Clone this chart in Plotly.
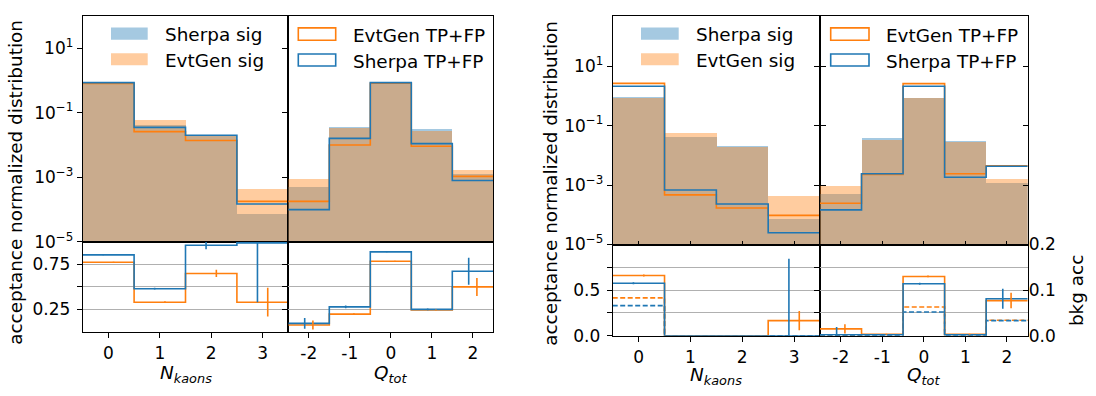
import numpy as np
import plotly.graph_objects as go

W, H = 1096, 396
FONT = "DejaVu Sans"
FS_TICK = 17
FS_TEXT = 18.4
BLUE = "#1f77b4"
ORANGE = "#ff7f0e"
BLUE_FILL = "rgba(31,119,180,0.4)"
ORANGE_FILL = "rgba(255,127,14,0.4)"

# ---- binning -------------------------------------------------------------
nk_centers = [0, 1, 2, 3]
q_centers = [-2, -1, 0, 1, 2]
nk_ticks = ["0", "1", "2", "3"]
q_ticks = ["-2", "-1", "0", "1", "2"]

# ---- signal shapes (shared by both groups) -------------------------------
sherpa_sig_nk = [0.92, 0.042, 0.021, 7.6e-5]
evtgen_sig_nk = [0.86, 0.060, 0.0195, 4.5e-4]
sherpa_sig_q = [5.3e-4, 0.038, 0.90, 0.032, 1.25e-3]
evtgen_sig_q = [9.3e-4, 0.035, 0.86, 0.028, 1.7e-3]

# ---- signal selection: TP+FP and acceptance ------------------------------
sherpa_tpfp_nk_sig = [0.85, 0.035, 0.020, 1.5e-4]
evtgen_tpfp_nk_sig = [0.80, 0.026, 0.0137, 1.8e-4]
sherpa_tpfp_q_sig = [1.0e-4, 0.016, 0.85, 0.011, 8.0e-4]
evtgen_tpfp_q_sig = [1.8e-4, 0.010, 0.81, 0.0091, 1.07e-3]

sherpa_acc_nk = [0.856, 0.48, 0.963, 0.99]
sherpa_acc_nk_err = [0.005, 0.01, 0.045, 0.66]
evtgen_acc_nk = [0.775, 0.33, 0.65, 0.33]
evtgen_acc_nk_err = [0.005, 0.01, 0.04, 0.16]
sherpa_acc_q = [0.094, 0.278, 0.89, 0.25, 0.675]
sherpa_acc_q_err = [0.06, 0.015, 0.005, 0.01, 0.15]
evtgen_acc_q = [0.076, 0.197, 0.785, 0.243, 0.50]
evtgen_acc_q_err = [0.05, 0.01, 0.005, 0.005, 0.10]

# ---- background selection: TP+FP and bkg acceptance ---------------------
sherpa_tpfp_nk_bkg = [2.13, 6.8e-4, 2.3e-4, 2.5e-5]
evtgen_tpfp_nk_bkg = [2.65, 4.7e-4, 1.7e-4, 9.6e-5]
sherpa_tpfp_q_bkg = [1.47e-4, 2.4e-3, 2.13, 1.84e-3, 4.3e-3]
evtgen_tpfp_q_bkg = [2.45e-4, 2.3e-3, 2.6, 2.4e-3, 4.5e-3]

sherpa_bkg_nk = [0.115, 0.0, 0.0, 0.0]
sherpa_bkg_nk_err = [0.002, 0.0, 0.0, 0.169]
evtgen_bkg_nk = [0.132, 0.0, 0.0, 0.033]
evtgen_bkg_nk_err = [0.002, 0.0, 0.0, 0.021]
sherpa_bkg_tp_nk = [0.066, 0.0, 0.0, 0.0]
evtgen_bkg_tp_nk = [0.083, 0.0, 0.0, 0.0]

sherpa_bkg_q = [0.002, 0.002, 0.114, 0.002, 0.081]
sherpa_bkg_q_err = [0.017, 0.001, 0.002, 0.001, 0.022]
evtgen_bkg_q = [0.015, 0.003, 0.130, 0.003, 0.077]
evtgen_bkg_q_err = [0.010, 0.001, 0.002, 0.001, 0.017]
sherpa_bkg_tp_q = [0.0005, 0.001, 0.052, 0.001, 0.033]
evtgen_bkg_tp_q = [0.001, 0.002, 0.063, 0.002, 0.034]


def px(x):
    return x / W


def py(y):
    return 1 - y / H


# panel boxes in pixels: left edge, divider, right edge, top, top/bottom split, bottom
GA = dict(x0=82.7, xm=288.3, x1=493.3, yt=6, ym=244.3, yb=339)
GB = dict(x0=612.7, xm=820.0, x1=1027.7, yt=6, ym=247, yb=343)

fig = go.Figure()


def step(centers, vals):
    c = np.asarray(centers, float)
    edges = np.append(c - 0.5, c[-1] + 0.5)
    yv = list(vals) + [vals[-1]]
    return edges, yv


def add_fill(xa, ya, centers, vals, color):
    fig.add_trace(go.Bar(x=centers, y=vals, width=1.0, marker=dict(color=color, line=dict(width=0)),
                         xaxis=xa, yaxis=ya, showlegend=False, hoverinfo="skip"))


def add_step(xa, ya, centers, vals, color, dash="solid"):
    ex, ey = step(centers, vals)
    fig.add_trace(go.Scatter(x=ex, y=ey, mode="lines", line=dict(color=color, width=1.6, shape="hv", dash=dash),
                             xaxis=xa, yaxis=ya, showlegend=False, hoverinfo="skip"))


def add_err(xa, ya, centers, vals, errs, color, shift):
    xs = [c + shift for c in centers]
    fig.add_trace(go.Scatter(x=xs, y=vals, mode="markers", marker=dict(size=1, color="rgba(0,0,0,0)"),
                             error_y=dict(type="data", array=errs, width=0, thickness=1.6, color=color),
                             xaxis=xa, yaxis=ya, showlegend=False, hoverinfo="skip"))


def add_empty(xa, ya):
    fig.add_trace(go.Scatter(x=[], y=[], xaxis=xa, yaxis=ya, showlegend=False, hoverinfo="skip"))


# ---- group A (signal) ----------------------------------------------------
add_fill("x", "y", nk_centers, sherpa_sig_nk, BLUE_FILL)
add_fill("x", "y", nk_centers, evtgen_sig_nk, ORANGE_FILL)
add_step("x", "y", nk_centers, evtgen_tpfp_nk_sig, ORANGE)
add_step("x", "y", nk_centers, sherpa_tpfp_nk_sig, BLUE)

add_step("x2", "y2", nk_centers, evtgen_acc_nk, ORANGE)
add_step("x2", "y2", nk_centers, sherpa_acc_nk, BLUE)
add_err("x2", "y2", nk_centers, evtgen_acc_nk, evtgen_acc_nk_err, ORANGE, 0.1)
add_err("x2", "y2", nk_centers, sherpa_acc_nk, sherpa_acc_nk_err, BLUE, -0.1)

add_fill("x3", "y3", q_centers, sherpa_sig_q, BLUE_FILL)
add_fill("x3", "y3", q_centers, evtgen_sig_q, ORANGE_FILL)
add_step("x3", "y3", q_centers, evtgen_tpfp_q_sig, ORANGE)
add_step("x3", "y3", q_centers, sherpa_tpfp_q_sig, BLUE)

add_step("x4", "y4", q_centers, evtgen_acc_q, ORANGE)
add_step("x4", "y4", q_centers, sherpa_acc_q, BLUE)
add_err("x4", "y4", q_centers, evtgen_acc_q, evtgen_acc_q_err, ORANGE, 0.1)
add_err("x4", "y4", q_centers, sherpa_acc_q, sherpa_acc_q_err, BLUE, -0.1)

# ---- group B (background) ------------------------------------------------
add_fill("x5", "y5", nk_centers, sherpa_sig_nk, BLUE_FILL)
add_fill("x5", "y5", nk_centers, evtgen_sig_nk, ORANGE_FILL)
add_step("x5", "y5", nk_centers, evtgen_tpfp_nk_bkg, ORANGE)
add_step("x5", "y5", nk_centers, sherpa_tpfp_nk_bkg, BLUE)

add_empty("x6", "y6")
add_step("x6", "y9", nk_centers, evtgen_bkg_tp_nk, ORANGE, "5px,2.5px")
add_step("x6", "y9", nk_centers, sherpa_bkg_tp_nk, BLUE, "5px,2.5px")
add_step("x6", "y9", nk_centers, evtgen_bkg_nk, ORANGE)
add_step("x6", "y9", nk_centers, sherpa_bkg_nk, BLUE)
add_err("x6", "y9", nk_centers, evtgen_bkg_nk, evtgen_bkg_nk_err, ORANGE, 0.1)
add_err("x6", "y9", nk_centers, sherpa_bkg_nk, sherpa_bkg_nk_err, BLUE, -0.1)

add_fill("x7", "y7", q_centers, sherpa_sig_q, BLUE_FILL)
add_fill("x7", "y7", q_centers, evtgen_sig_q, ORANGE_FILL)
add_step("x7", "y7", q_centers, evtgen_tpfp_q_bkg, ORANGE)
add_step("x7", "y7", q_centers, sherpa_tpfp_q_bkg, BLUE)
add_empty("x7", "y11")

add_empty("x8", "y8")
add_step("x8", "y10", q_centers, evtgen_bkg_tp_q, ORANGE, "5px,2.5px")
add_step("x8", "y10", q_centers, sherpa_bkg_tp_q, BLUE, "5px,2.5px")
add_step("x8", "y10", q_centers, evtgen_bkg_q, ORANGE)
add_step("x8", "y10", q_centers, sherpa_bkg_q, BLUE)
add_err("x8", "y10", q_centers, evtgen_bkg_q, evtgen_bkg_q_err, ORANGE, 0.1)
add_err("x8", "y10", q_centers, sherpa_bkg_q, sherpa_bkg_q_err, BLUE, -0.1)

# ---- axes ----------------------------------------------------------------
tickfont = dict(family=FONT, size=FS_TICK, color="black")
frame = dict(showline=True, linecolor="black", linewidth=1, mirror=True, zeroline=False, showgrid=False,
             tickfont=tickfont, ticklen=5, tickwidth=1, tickcolor="black")
grid = dict(showgrid=True, gridcolor="#b0b0b0", gridwidth=1)
log_vals = [10, 0.1, 1e-3, 1e-5]
log_text = ["10<sup>1</sup>", "10<sup>−1</sup>", "10<sup>−3</sup>", "10<sup>−5</sup>"]
layout_axes = {}


def xaxis(name, anchor, x0, x1, centers, labels, show, ticks="outside"):
    ax = dict(frame, domain=[px(x0), px(x1)], anchor=anchor,
              range=[centers[0] - 0.5, centers[-1] + 0.5],
              tickmode="array", tickvals=centers, ticks=ticks, showticklabels=show)
    if show:
        ax["ticktext"] = labels
        ax["ticklabelstandoff"] = 1
    layout_axes[name] = ax


def yaxis(name, anchor, yt, yb, **kw):
    ax = dict(frame, domain=[py(yb), py(yt)], anchor=anchor, ticks="outside")
    ax.update(kw)
    layout_axes[name] = ax


def minor(vals):
    return dict(tickmode="array", tickvals=vals, ticks="outside", ticklen=5, tickcolor="black",
                showgrid=True, gridcolor="#b0b0b0", gridwidth=1)


# group A
xaxis("xaxis", "y", GA["x0"], GA["xm"], nk_centers, nk_ticks, False, ticks="")
xaxis("xaxis2", "y2", GA["x0"], GA["xm"], nk_centers, nk_ticks, True)
xaxis("xaxis3", "y3", GA["xm"], GA["x1"], q_centers, q_ticks, False, ticks="")
xaxis("xaxis4", "y4", GA["xm"], GA["x1"], q_centers, q_ticks, True)
yaxis("yaxis", "x", GA["yt"], GA["ym"], type="log", range=[-5, 2], tickmode="array",
      tickvals=log_vals, ticktext=log_text)
yaxis("yaxis3", "x3", GA["yt"], GA["ym"], type="log", range=[-5, 2], tickmode="array",
      tickvals=log_vals, showticklabels=False)
yaxis("yaxis2", "x2", GA["ym"], GA["yb"], range=[0, 1], tickmode="array",
      tickvals=[0.25, 0.75], ticktext=["0.25", "0.75"], minor=minor([0.5]), ticklabelstandoff=3, **grid)
yaxis("yaxis4", "x4", GA["ym"], GA["yb"], range=[0, 1], tickmode="array",
      tickvals=[0.25, 0.5, 0.75], showticklabels=False, **grid)

# group B
xaxis("xaxis5", "y5", GB["x0"], GB["xm"], nk_centers, nk_ticks, False, ticks="inside")
xaxis("xaxis6", "y6", GB["x0"], GB["xm"], nk_centers, nk_ticks, True)
xaxis("xaxis7", "y7", GB["xm"], GB["x1"], q_centers, q_ticks, False, ticks="inside")
xaxis("xaxis8", "y8", GB["xm"], GB["x1"], q_centers, q_ticks, True)
layout_axes["xaxis5"]["ticklen"] = 4
layout_axes["xaxis7"]["ticklen"] = 4
yaxis("yaxis5", "x5", GB["yt"], GB["ym"], type="log", range=[-5, 2.7], tickmode="array",
      tickvals=log_vals, ticktext=log_text, mirror="ticks")
yaxis("yaxis7", "x7", GB["yt"], GB["ym"], type="log", range=[-5, 2.7], tickmode="array",
      tickvals=log_vals, showticklabels=False)
layout_axes["yaxis11"] = dict(overlaying="y7", anchor="x7", side="right", type="log", range=[-5, 2.7],
                              tickmode="array", tickvals=log_vals, showticklabels=False,
                              ticks="inside", ticklen=5, tickcolor="black",
                              showgrid=False, zeroline=False, showline=False)
yaxis("yaxis6", "x6", GB["ym"], GB["yb"], range=[0, 1], tickmode="array",
      tickvals=[0, 0.5], ticktext=["0.0", "0.5"], minor=minor([0.25, 0.75]), ticklabelstandoff=3, **grid)
yaxis("yaxis8", "x8", GB["ym"], GB["yb"], range=[0, 1], tickmode="array",
      tickvals=[0.25, 0.5, 0.75], showticklabels=False, **grid)
layout_axes["yaxis9"] = dict(overlaying="y6", anchor="x6", range=[0, 0.2], visible=False)
layout_axes["yaxis10"] = dict(overlaying="y8", anchor="x8", side="right", range=[0, 0.2],
                              tickmode="array", tickvals=[0, 0.1, 0.2], ticktext=["0.0", "0.1", "0.2"],
                              ticks="inside", ticklen=5, tickcolor="black", tickfont=tickfont,
                              showgrid=False, zeroline=False, showline=False)

# ---- legends and titles --------------------------------------------------
shapes = []
annotations = []


def legend_entry(x0, x1, y0, y1, tx, label, fill=None, edge=None):
    rect = dict(type="rect", xref="paper", yref="paper", x0=px(x0), x1=px(x1), y0=py(y1), y1=py(y0))
    if fill is not None:
        rect.update(fillcolor=fill, line=dict(width=0))
    else:
        rect.update(fillcolor="white", line=dict(color=edge, width=1.6))
    shapes.append(rect)
    annotations.append(dict(xref="paper", yref="paper", x=px(tx), y=py((y0 + y1) / 2 + 1.5), text=label,
                            showarrow=False, xanchor="left", yanchor="middle",
                            font=dict(family=FONT, size=FS_TEXT, color="black")))


for (ax0, ax1, atx), (bx0, bx1, btx) in (((111, 147.7, 163.3), (298.3, 335.7, 351)),
                                          ((641, 678.7, 694), (830.7, 869, 884))):
    legend_entry(ax0, ax1, 18.3, 31.3, atx, "Sherpa sig", fill=BLUE_FILL)
    legend_entry(ax0, ax1, 45.5, 58.3, atx, "EvtGen sig", fill=ORANGE_FILL)
    legend_entry(bx0, bx1, 18.8, 31.8, btx, "EvtGen TP+FP", edge=ORANGE)
    legend_entry(bx0, bx1, 46.3, 59.0, btx, "Sherpa TP+FP", edge=BLUE)


def text(x, y, s, angle=0):
    annotations.append(dict(xref="paper", yref="paper", x=px(x), y=py(y), text=s, showarrow=False,
                            xanchor="center", yanchor="middle", textangle=angle,
                            font=dict(family=FONT, size=FS_TEXT, color="black")))


ytitle = "acceptance normalized distribution"
text(16, 182, ytitle, -90)
text(551, 183, ytitle, -90)
nk_title = "<i>N</i><sub><i>kaons</i></sub>"
q_title = "<i>Q</i><sub><i>tot</i></sub>"
text((GA["x0"] + GA["xm"]) / 2, 383, nk_title)
text((GA["xm"] + GA["x1"]) / 2, 383, q_title)
text((GB["x0"] + GB["xm"]) / 2, 385.5, nk_title)
text((GB["xm"] + GB["x1"]) / 2, 385.5, q_title)
text(1076, 296, "bkg acc", -90)

fig.update_layout(
    width=W, height=H, margin=dict(l=0, r=0, t=0, b=0),
    paper_bgcolor="white", plot_bgcolor="white",
    barmode="overlay", bargap=0, showlegend=False,
    font=dict(family=FONT, size=FS_TICK, color="black"),
    shapes=shapes, annotations=annotations,
    **layout_axes,
)

fig.write_html("out.html")
